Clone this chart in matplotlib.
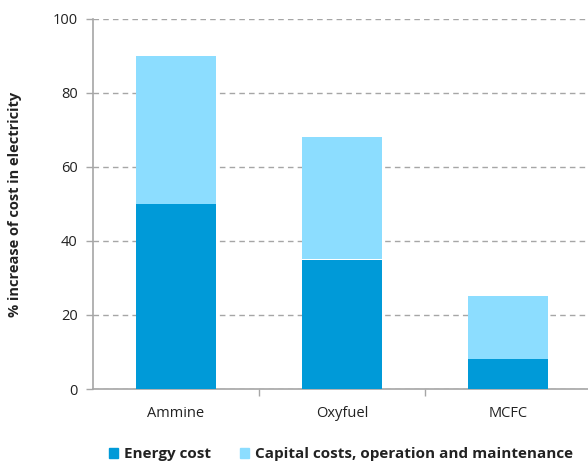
import matplotlib.pyplot as plt
from matplotlib.patches import Patch

categories = ["Ammine", "Oxyfuel", "MCFC"]
energy_cost = [50, 35, 8]
capital_om = [40, 33, 17]
series_names = ["Energy cost", "Capital costs, operation and maintenance"]
y_ticks = [0, 20, 40, 60, 80, 100]

dark = "#009ad8"
light = "#8cddff"
grey = "#a6a6a6"

plt.rcParams['font.family'] = ['Open Sans', 'DejaVu Sans']

fig = plt.figure(figsize=(5.88, 4.61), dpi=100)
ax = fig.add_axes([93 / 588, 1 - 389 / 461, (588 - 93) / 588, (389 - 19) / 461])

x = list(range(len(categories)))
w = 0.48
ax.bar(x, energy_cost, width=w, color=dark, zorder=3)
ax.bar(x, capital_om, width=w, bottom=energy_cost, color=light, zorder=3)

ax.set_ylim(0, 100)
ax.set_xlim(-0.5, 2.5 - 3 / 166)
ax.set_yticks(y_ticks)
ax.set_yticklabels([str(v) for v in y_ticks], fontsize=10.5, color="#222222")
ax.yaxis.grid(True, linestyle=(0, (4, 3)), color=grey, linewidth=1, zorder=0)
ax.set_axisbelow(True)

ax.set_xticks(x)
ax.set_xticklabels(categories, fontsize=10.5, color="#222222")
ax.set_xticks([0.5, 1.5], minor=True)
ax.tick_params(axis="x", which="major", length=0, pad=12)
ax.tick_params(axis="x", which="minor", length=5, color=grey, width=1)
ax.tick_params(axis="y", length=5, color=grey, width=1, pad=6)

for s in ["top", "right"]:
    ax.spines[s].set_visible(False)
for s in ["left", "bottom"]:
    ax.spines[s].set_color(grey)
    ax.spines[s].set_linewidth(1.2)

ax.set_ylabel("% increase of cost in electricity", fontsize=10.5, fontweight="bold",
              color="#222222", labelpad=22)

handles = [Patch(color=dark), Patch(color=light)]
leg = fig.legend(handles, series_names, loc="lower left", bbox_to_anchor=(95 / 588, -0.03),
                 ncol=2, frameon=False, handlelength=0.6, handleheight=0.6,
                 handletextpad=0.4, columnspacing=1.9,
                 prop={"weight": "bold", "size": 11})
for t in leg.get_texts():
    t.set_color("#222222")

fig.savefig("out.png", dpi=100)
